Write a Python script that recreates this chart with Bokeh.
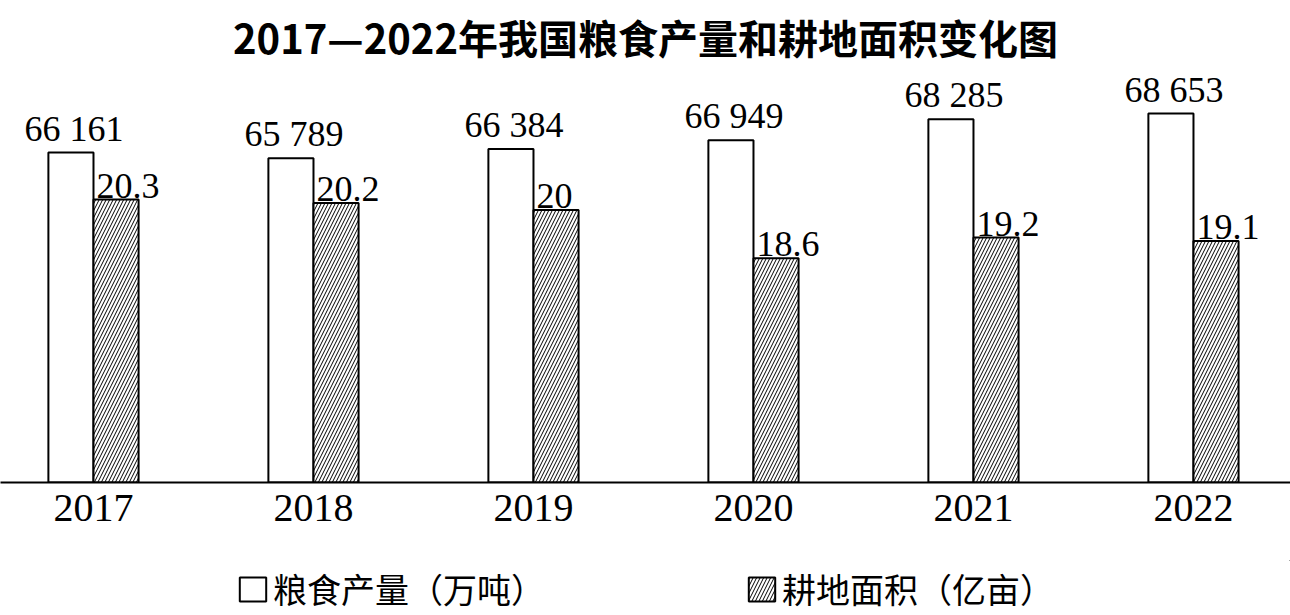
from bokeh.plotting import figure
from bokeh.layouts import column
from bokeh.models import Range1d, FixedTicker, Legend, LegendItem, ColumnDataSource, Title, LabelSet
from bokeh.core.properties import value
from bokeh.embed import file_html
from bokeh.resources import INLINE

years = ["2017", "2018", "2019", "2020", "2021", "2022"]
grain = [66161, 65789, 66384, 66949, 68285, 68653]      # 粮食产量（万吨）
land = [20.3, 20.2, 20.0, 18.6, 19.2, 19.1]             # 耕地面积（亿亩）

GRAIN_BASE, GRAIN_TOP = 45075, 71401
LAND_BASE, LAND_TOP = 12.1, 24.04
BAR_W = 0.205

GRAIN_STYLE = dict(fill_color="white", line_color="black", line_width=2)
LAND_STYLE = dict(fill_color="white", line_color="black", line_width=2,
                  hatch_pattern="/", hatch_color="black", hatch_scale=7, hatch_weight=1)

xs = list(range(len(years)))
src = ColumnDataSource(dict(
    gx=[i - BAR_W / 2 for i in xs],
    lx=[i + BAR_W / 2 for i in xs],
    lxl=[i for i in xs],
    grain=grain,
    land=land,
    glabel=[f"{v // 1000} {v % 1000:03d}" for v in grain],
    llabel=[f"{v:g}" for v in land],
))

p = figure(width=1290, height=560, output_backend="svg", toolbar_location=None,
           x_range=Range1d(-0.4227, 5.441), y_range=Range1d(GRAIN_BASE, GRAIN_TOP),
           y_axis_location=None,
           min_border_left=0, min_border_right=0, min_border_top=70, min_border_bottom=78)
p.extra_y_ranges = {"land": Range1d(LAND_BASE, LAND_TOP)}
p.grid.visible = False
p.outline_line_color = None
p.background_fill_color = "white"

p.vbar(x="gx", top="grain", bottom=GRAIN_BASE, width=BAR_W, source=src, **GRAIN_STYLE)
p.vbar(x="lx", top="land", bottom=LAND_BASE, width=BAR_W, source=src, y_range_name="land",
       **LAND_STYLE)

p.add_layout(LabelSet(x="gx", y="grain", text="glabel", source=src, text_align="center",
                      text_baseline="bottom", x_offset=3, y_offset=4,
                      text_font=value("Liberation Serif"), text_font_size=value("36px"),
                      text_color="black"))
p.add_layout(LabelSet(x="lxl", y="land", text="llabel", source=src, y_range_name="land",
                      text_align="left", text_baseline="bottom", x_offset=3, y_offset=2,
                      text_font=value("Liberation Serif"), text_font_size=value("36px"),
                      text_color="black"))

ax = p.xaxis[0]
ax.ticker = FixedTicker(ticks=xs)
ax.major_label_overrides = {i: y for i, y in zip(xs, years)}
ax.major_label_text_font = "Liberation Serif"
ax.major_label_text_font_size = "40px"
ax.major_label_text_color = "black"
ax.major_label_standoff = 6
ax.axis_line_width = 2
ax.axis_line_color = "black"
ax.major_tick_line_color = None
ax.minor_tick_line_color = None

p.add_layout(Title(text="2017—2022年我国粮食产量和耕地面积变化图", align="center",
                   text_font="Noto Sans CJK SC", text_font_size="40px",
                   text_font_style="bold", text_color="black"), "above")

# legend strip below the chart (its bars sit outside the strip's visible range)
q = figure(width=1290, height=55, output_backend="svg", toolbar_location=None,
           x_range=Range1d(0, 1), y_range=Range1d(0, 1),
           x_axis_location=None, y_axis_location=None,
           min_border_left=0, min_border_right=0, min_border_top=0, min_border_bottom=0)
q.grid.visible = False
q.outline_line_color = None
dummy = ColumnDataSource(dict(x=[5], top=[5]))
lg = q.vbar(x="x", top="top", bottom=4, width=0.1, source=dummy, **GRAIN_STYLE)
ll = q.vbar(x="x", top="top", bottom=4, width=0.1, source=dummy, **LAND_STYLE)
legend = Legend(items=[LegendItem(label="粮食产量（万吨）", renderers=[lg]),
                       LegendItem(label="耕地面积（亿亩）", renderers=[ll])],
                orientation="horizontal", location="bottom", spacing=200,
                glyph_width=33, glyph_height=30, label_standoff=4,
                label_text_font="Noto Sans CJK SC", label_text_font_size="34px",
                label_text_color="black", border_line_color=None,
                background_fill_alpha=0, padding=0, margin=2)
q.add_layout(legend, "center")

open("out.html", "w").write(file_html(column(p, q, spacing=0), INLINE))
